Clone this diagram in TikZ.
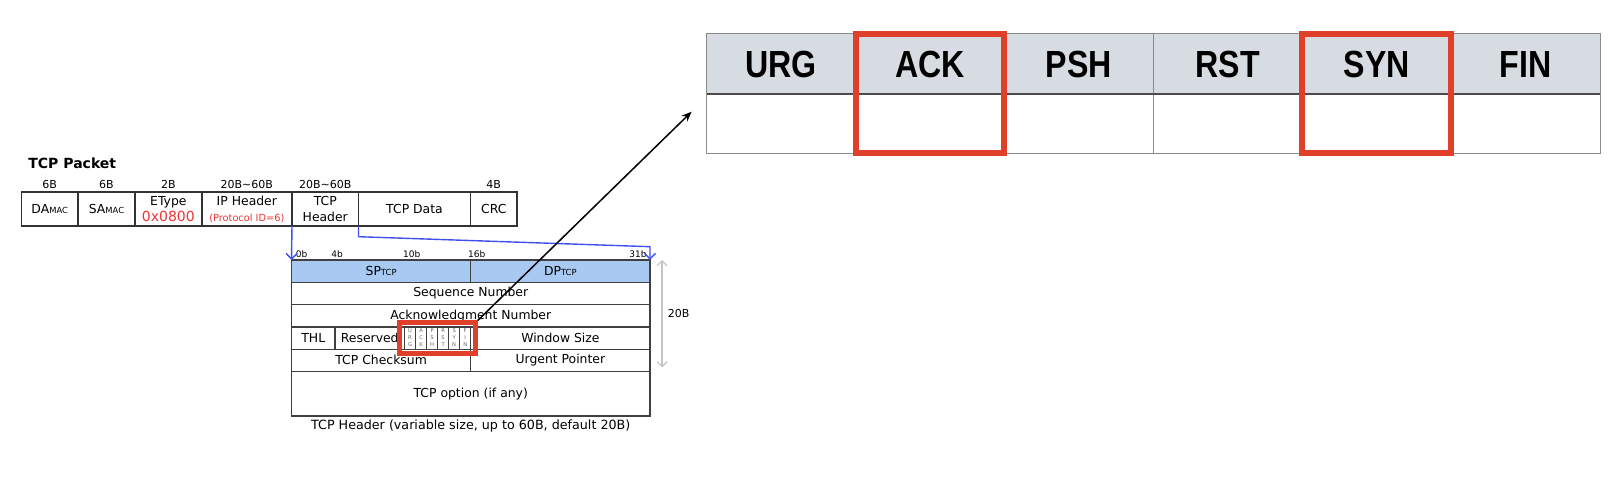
\documentclass[tikz,border=0pt]{standalone}
\usepackage{fontspec}
\setmainfont{DejaVu Sans}
\newfontfamily\flagfont{Liberation Sans}[FakeStretch=0.85]
\usetikzlibrary{arrows.meta,positioning,fit,calc}
\definecolor{hilite}{HTML}{E0402A}
\definecolor{protored}{HTML}{EE3333}
\definecolor{portbg}{HTML}{A7C9F2}
\definecolor{linkblue}{HTML}{3F4FF0}
\definecolor{flaghead}{HTML}{D6DCE1}
\definecolor{gridgray}{HTML}{8A8A8A}
\definecolor{spangray}{HTML}{C4C4C4}
\tikzset{
  cell/.style={draw=black!80, line width=0.6pt, inner sep=0pt, outer sep=0pt, align=center, font=\fontsize{6.2}{8}\selectfont},
  pkt/.style={cell, line width=0.9pt, minimum height=17pt},
  hdr/.style={cell, draw=black!75, minimum height=11.15pt},
  flag/.style={hdr, line width=0.5pt, minimum width=5.52pt, text=black!60, font=\fontsize{2.6}{3.5}\selectfont},
  sz/.style={inner sep=0.6pt, font=\fontsize{5.5}{6}\selectfont},
  bit/.style={inner sep=0.5pt, font=\fontsize{4.5}{5}\selectfont},
  col/.style={draw=gridgray, line width=0.5pt, inner sep=0pt, outer sep=0pt, minimum width=74.45pt, minimum height=29.5pt},
  colhead/.style={col, fill=flaghead, minimum height=30pt, font=\flagfont\bfseries\fontsize{18.9}{20}\selectfont},
  hl/.style={draw=hilite, line width=3pt, inner sep=0pt},
  link/.style={-{Straight Barb[length=2.8pt,width=5.5pt]}, draw=linkblue, line width=0.7pt},
  span/.style={{Straight Barb[length=2.5pt,width=5pt]}-{Straight Barb[length=2.5pt,width=5pt]}, draw=spangray, line width=0.6pt},
  callout/.style={-{Stealth[length=5pt,width=4pt]}, line width=0.75pt},
}
\newcommand{\submac}{{\fontsize{4.2}{5}\selectfont MAC}}
\newcommand{\subtcp}{{\fontsize{4.2}{5}\selectfont TCP}}

\begin{document}
\begin{tikzpicture}[x=0.5pt, y=-0.5pt]
    \useasboundingbox (0,0) rectangle (1620,476);
    \node[anchor=west, inner sep=0pt, font=\bfseries\fontsize{7}{8}\selectfont] (title) at (28,163) {TCP Packet};
    \node[pkt, minimum width=28.25pt, anchor=north west] (da) at (21.5,192) {DA\submac};
    \node[pkt, minimum width=28.5pt, right=0pt of da] (sa) {SA\submac};
    \node[pkt, minimum width=33.35pt, right=0pt of sa] (etype) {EType\\{\color{protored}\fontsize{7}{8}\selectfont 0x0800}};
    \node[pkt, minimum width=45.15pt, right=0pt of etype] (iph) {IP Header\\{\color{protored}\fontsize{4.9}{5}\selectfont (Protocol ID=6)}};
    \node[pkt, minimum width=33.25pt, right=0pt of iph] (tcph) {TCP\\Header};
    \node[pkt, minimum width=56pt, right=0pt of tcph] (data) {TCP Data};
    \node[pkt, minimum width=23.25pt, right=0pt of data] (crc) {CRC};
    \node[sz, above=1pt of da] (da-sz) {6B};
    \node[sz, above=1pt of sa] (sa-sz) {6B};
    \node[sz, above=1pt of etype] (etype-sz) {2B};
    \node[sz, above=1pt of iph] (iph-sz) {20B\char`~60B};
    \node[sz, above=1pt of tcph] (tcph-sz) {20B\char`~60B};
    \node[sz, above=1pt of crc] (crc-sz) {4B};

    \node[hdr, fill=portbg, minimum width=89.6pt, anchor=north west] (sp) at (291.5,260) {SP\subtcp};
    \node[hdr, fill=portbg, minimum width=89.65pt, right=0pt of sp] (dp) {DP\subtcp};
    \node[hdr, minimum width=179.25pt, anchor=north west] (seq) at (sp.south west) {Sequence Number};
    \node[hdr, minimum width=179.25pt, anchor=north west] (ack) at (seq.south west) {Acknowledgment Number};
    \node[hdr, minimum width=21.75pt, anchor=north west] (thl) at (ack.south west) {THL};
    \node[hdr, minimum width=34.75pt, right=0pt of thl] (rsv) {Reserved};
    \node[flag, right=0pt of rsv] (f1) {U\\R\\G};
    \node[flag, right=0pt of f1] (f2) {A\\C\\K};
    \node[flag, right=0pt of f2] (f3) {P\\S\\H};
    \node[flag, right=0pt of f3] (f4) {R\\S\\T};
    \node[flag, right=0pt of f4] (f5) {S\\Y\\N};
    \node[flag, right=0pt of f5] (f6) {F\\I\\N};
    \node[hdr, minimum width=89.65pt, right=0pt of f6] (win) {Window Size};
    \node[hdr, minimum width=89.6pt, anchor=north west] (chk) at (thl.south west) {TCP Checksum};
    \node[hdr, minimum width=89.65pt, right=0pt of chk] (uptr) {Urgent Pointer};
    \node[hdr, minimum width=179.25pt, minimum height=22.25pt, anchor=north west] (opt) at (chk.south west) {TCP option (if any)};
    \node[sz, below=1.2pt of opt, font=\fontsize{6.35}{7}\selectfont] (caption) {TCP Header (variable size, up to 60B, default 20B)};
    \node[bit] (b0) at (301.7,254) {0b};
    \node[bit] (b4) at (337,254) {4b};
    \node[bit] (b10) at (411.7,254) {10b};
    \node[bit] (b16) at (476.7,254) {16b};
    \node[bit] (b31) at (638,254) {31b};
    \node[hl, line width=2.5pt, fit=(f1)(f6), inner xsep=2.3pt, inner ysep=2pt] (flagbox) {};

    \draw[link] (tcph.south west) -- (sp.north west);
    \draw[link] (tcph.south east) -- ++(0,10.7) -- ([yshift=6.65pt]dp.north east) -- (dp.north east);
    \draw[span] ([xshift=6pt]dp.north east) -- ([xshift=6pt,yshift=2pt]uptr.south east) node[sz, midway, right=2pt] (len) {20B};

    \node[colhead, anchor=north west] (urg-h) at (706.6,34) {URG};
    \node[colhead, right=0pt of urg-h] (ack-h) {ACK};
    \node[colhead, right=0pt of ack-h] (psh-h) {PSH};
    \node[colhead, right=0pt of psh-h] (rst-h) {RST};
    \node[colhead, right=0pt of rst-h] (syn-h) {SYN};
    \node[colhead, right=0pt of syn-h] (fin-h) {FIN};
    \node[col, below=0pt of urg-h] (urg-v) {};
    \node[col, below=0pt of ack-h] (ack-v) {};
    \node[col, below=0pt of psh-h] (psh-v) {};
    \node[col, below=0pt of rst-h] (rst-v) {};
    \node[col, below=0pt of syn-h] (syn-v) {};
    \node[col, below=0pt of fin-h] (fin-v) {};
    \draw[black!70, line width=0.6pt] (urg-h.south west) -- (fin-h.south east);
    \node[hl, fit=(ack-h)(ack-v)] (ack-box) {};
    \node[hl, fit=(syn-h)(syn-v)] (syn-box) {};

    \coordinate (tip) at ($(urg-v.west)+(-7.5pt,5.9pt)$);
    \draw[callout] (flagbox.north east) -- (tip);
  \end{tikzpicture}
\end{document}
